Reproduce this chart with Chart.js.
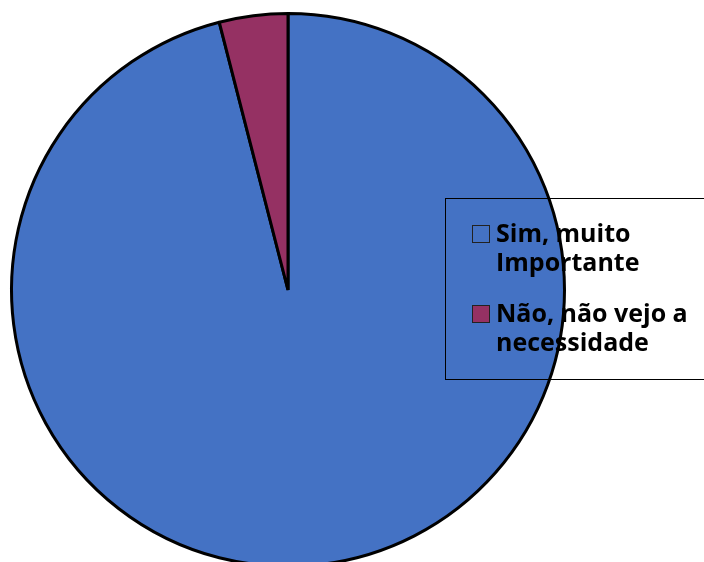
<!DOCTYPE html>
<html>
<head>
<meta charset="utf-8">
<script src="https://cdn.jsdelivr.net/npm/chart.js@4"></script>
<style>
  html, body { margin: 0; padding: 0; background: #fff; overflow: hidden; }
  canvas { display: block; }
</style>
</head>
<body>
<canvas id="pieChart" width="704" height="600"></canvas>
<script>
const labels = ['Sim, muito Importante', 'Não, não vejo a necessidade'];
const legendLines = [['Sim, muito', 'Importante'], ['Não, não vejo a', 'necessidade']];
const values = [96, 4];
const sliceColors = ['#4472C4', '#953163'];
const swatchColors = ['rgba(0,0,0,0)', '#953163'];

// legend box sits over the right side of the pie, with a see-through fill
const boxLegend = {
    id: 'boxLegend',
    afterDraw(chart) {
        const ctx = chart.ctx;
        ctx.save();
        ctx.strokeStyle = '#000';
        ctx.lineWidth = 1;
        ctx.strokeRect(445.5, 198.5, 300, 181);

        ctx.font = 'bold 25px "Open Sans"';
        ctx.textBaseline = 'alphabetic';
        const rows = [242, 322];
        legendLines.forEach((lines, i) => {
            const y = rows[i];
            ctx.fillStyle = swatchColors[i];
            ctx.fillRect(472, y - 17, 17, 17);
            ctx.strokeStyle = '#222';
            ctx.lineWidth = 1;
            ctx.strokeRect(472.5, y - 16.5, 17, 17);
            ctx.fillStyle = '#000';
            lines.forEach((t, j) => ctx.fillText(t, 496, y + j * 29));
        });
        ctx.restore();
    }
};

new Chart(document.getElementById('pieChart').getContext('2d'), {
    type: 'pie',
    data: {
        labels: labels,
        datasets: [{
            data: values,
            backgroundColor: sliceColors,
            borderColor: '#000',
            borderWidth: 3
        }]
    },
    options: {
        responsive: false,
        animation: false,
        layout: {
            padding: { left: 10, top: 12, right: 138, bottom: 32 }
        },
        plugins: {
            legend: { display: false },
            tooltip: { enabled: false }
        }
    },
    plugins: [boxLegend]
});
</script>
</body>
</html>
